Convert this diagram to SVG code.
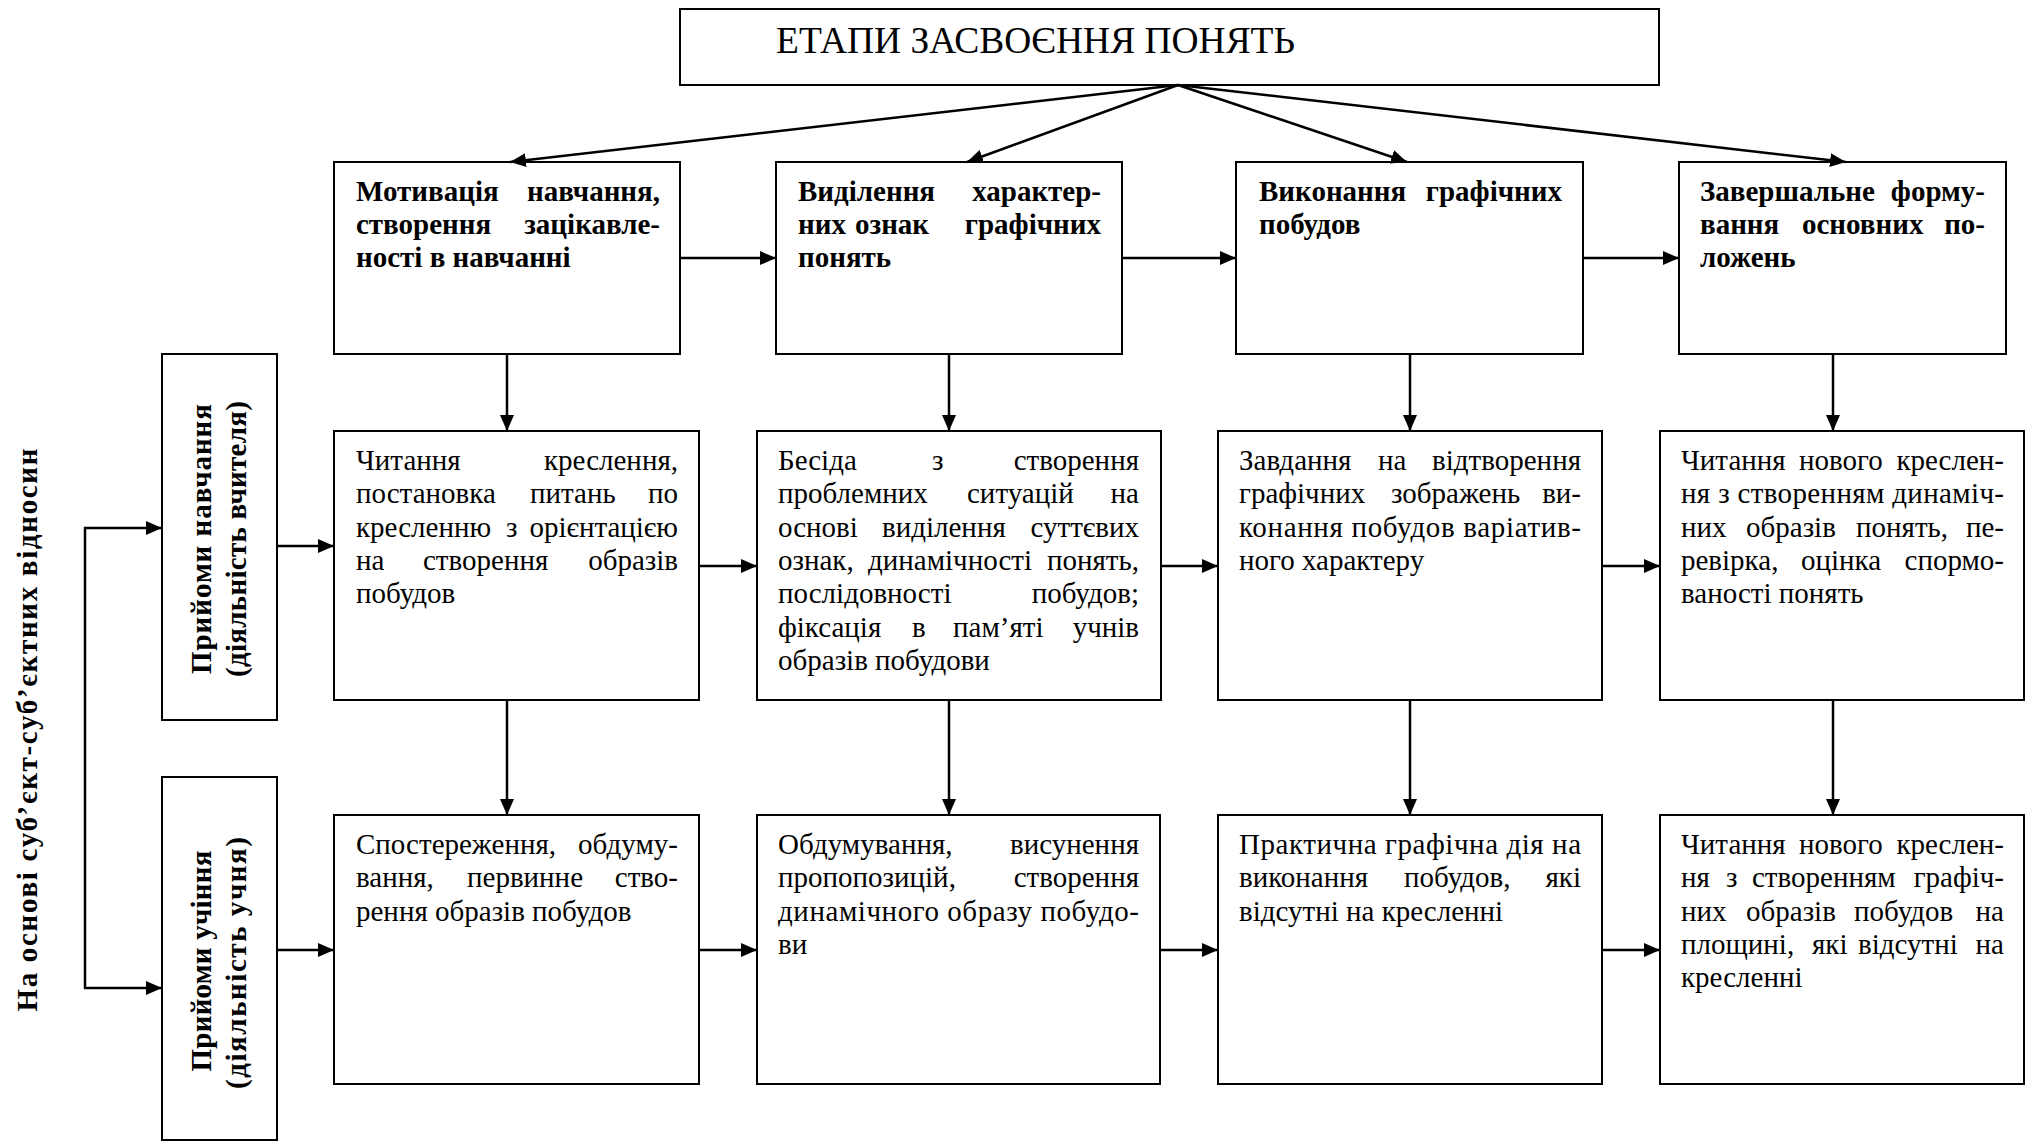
<svg xmlns="http://www.w3.org/2000/svg" width="2031" height="1142" viewBox="0 0 2031 1142">
  <style>
    .box { fill: #ffffff; stroke: #000000; stroke-width: 2; }
    .t { font-family: "Liberation Serif", "Times New Roman", serif; font-size: 29px; fill: #000000; }
    .b { font-weight: bold; }
    .e { text-anchor: end; }
    .m { text-anchor: middle; }
    .title { font-family: "Liberation Serif", "Times New Roman", serif; font-size: 37px; fill: #000000; }
    .conn { stroke: #000000; stroke-width: 2.5; fill: none; marker-end: url(#ah); }
    .wire { stroke: #000000; stroke-width: 2.5; fill: none; }
  </style>
  <defs>
    <marker id="ah" markerUnits="userSpaceOnUse" markerWidth="16" markerHeight="14" refX="16" refY="7" orient="auto">
      <path d="M0,0 L16,7 L0,14 z" fill="#000000"/>
    </marker>
  </defs>
  <rect x="0" y="0" width="2031" height="1142" fill="#ffffff"/>

  <!-- side caption -->
  <g id="caption-relations">
    <text class="t b m" transform="translate(37,730) rotate(-90)" textLength="563" lengthAdjust="spacing">На основі суб’єкт-суб’єктних відносин</text>
  </g>

  <!-- title -->
  <g id="title">
    <rect class="box" x="680" y="9" width="979" height="76"/>
    <text class="title" x="776" y="53" textLength="519" lengthAdjust="spacingAndGlyphs">ЕТАПИ ЗАСВОЄННЯ ПОНЯТЬ</text>
  </g>

  <!-- stage row -->
  <g id="stage-1">
    <rect class="box" x="334" y="162" width="346" height="192"/>
    <text class="t b" x="356" y="201">Мотивація</text><text class="t b e" x="660" y="201">навчання,</text>
    <text class="t b" x="356" y="234">створення</text><text class="t b e" x="660" y="234">зацікавле-</text>
    <text class="t b" x="356" y="267">ності в навчанні</text>
  </g>
  <g id="stage-2">
    <rect class="box" x="776" y="162" width="346" height="192"/>
    <text class="t b" x="798" y="201">Виділення</text><text class="t b e" x="1101" y="201">характер-</text>
    <text class="t b" x="798" y="234">них</text><text class="t b" x="855" y="234">ознак</text><text class="t b e" x="1101" y="234">графічних</text>
    <text class="t b" x="798" y="267">понять</text>
  </g>
  <g id="stage-3">
    <rect class="box" x="1236" y="162" width="347" height="192"/>
    <text class="t b" x="1259" y="201">Виконання</text><text class="t b e" x="1562" y="201">графічних</text>
    <text class="t b" x="1259" y="234">побудов</text>
  </g>
  <g id="stage-4">
    <rect class="box" x="1679" y="162" width="327" height="192"/>
    <text class="t b" x="1700" y="201">Завершальне</text><text class="t b e" x="1985" y="201">форму-</text>
    <text class="t b" x="1700" y="234">вання</text><text class="t b" x="1802" y="234">основних</text><text class="t b e" x="1985" y="234">по-</text>
    <text class="t b" x="1700" y="267">ложень</text>
  </g>

  <!-- teacher / student labels -->
  <g id="teacher">
    <rect class="box" x="162" y="354" width="115" height="366"/>
    <text class="t b m" transform="translate(211,539) rotate(-90)" textLength="270" lengthAdjust="spacing">Прийоми навчання</text>
    <text class="t b m" transform="translate(246,539) rotate(-90)" textLength="276" lengthAdjust="spacing">(діяльність вчителя)</text>
  </g>
  <g id="student">
    <rect class="box" x="162" y="777" width="115" height="363"/>
    <text class="t b m" transform="translate(211,961) rotate(-90)" textLength="221" lengthAdjust="spacing">Прийоми учіння</text>
    <text class="t b m" transform="translate(246,963) rotate(-90)" textLength="252" lengthAdjust="spacing">(діяльність учня)</text>
  </g>

  <!-- teaching row -->
  <g id="teach-1">
    <rect class="box" x="334" y="431" width="365" height="269"/>
    <text class="t" x="356" y="470">Читання</text><text class="t e" x="678" y="470">креслення,</text>
    <text class="t" x="356" y="503">постановка</text><text class="t" x="530" y="503">питань</text><text class="t e" x="678" y="503">по</text>
    <text class="t" x="356" y="537">кресленню</text><text class="t" x="506" y="537">з</text><text class="t e" x="678" y="537">орієнтацією</text>
    <text class="t" x="356" y="570">на</text><text class="t" x="423" y="570">створення</text><text class="t e" x="678" y="570">образів</text>
    <text class="t" x="356" y="603">побудов</text>
  </g>
  <g id="teach-2">
    <rect class="box" x="757" y="431" width="404" height="269"/>
    <text class="t" x="778" y="470">Бесіда</text><text class="t" x="932" y="470">з</text><text class="t e" x="1139" y="470">створення</text>
    <text class="t" x="778" y="503">проблемних</text><text class="t" x="967" y="503">ситуацій</text><text class="t e" x="1139" y="503">на</text>
    <text class="t" x="778" y="537">основі</text><text class="t" x="882" y="537">виділення</text><text class="t e" x="1139" y="537">суттєвих</text>
    <text class="t" x="778" y="570">ознак,</text><text class="t" x="868" y="570">динамічності</text><text class="t e" x="1139" y="570">понять,</text>
    <text class="t" x="778" y="603">послідовності</text><text class="t e" x="1139" y="603">побудов;</text>
    <text class="t" x="778" y="637">фіксація</text><text class="t" x="912" y="637">в</text><text class="t" x="953" y="637">пам’яті</text><text class="t e" x="1139" y="637">учнів</text>
    <text class="t" x="778" y="670">образів побудови</text>
  </g>
  <g id="teach-3">
    <rect class="box" x="1218" y="431" width="384" height="269"/>
    <text class="t" x="1239" y="470">Завдання</text><text class="t" x="1378" y="470">на</text><text class="t e" x="1581" y="470">відтворення</text>
    <text class="t" x="1239" y="503">графічних</text><text class="t" x="1391" y="503">зображень</text><text class="t e" x="1581" y="503">ви-</text>
    <text class="t" x="1239" y="537" textLength="342" lengthAdjust="spacing">конання побудов варіатив-</text>
    <text class="t" x="1239" y="570">ного характеру</text>
  </g>
  <g id="teach-4">
    <rect class="box" x="1660" y="431" width="364" height="269"/>
    <text class="t" x="1681" y="470">Читання</text><text class="t" x="1799" y="470">нового</text><text class="t e" x="2004" y="470">креслен-</text>
    <text class="t" x="1681" y="503" textLength="323" lengthAdjust="spacing">ня з створенням динаміч-</text>
    <text class="t" x="1681" y="537">них</text><text class="t" x="1746" y="537">образів</text><text class="t" x="1856" y="537">понять,</text><text class="t e" x="2004" y="537">пе-</text>
    <text class="t" x="1681" y="570">ревірка,</text><text class="t" x="1801" y="570">оцінка</text><text class="t e" x="2004" y="570">спормо-</text>
    <text class="t" x="1681" y="603">ваності понять</text>
  </g>

  <!-- learning row -->
  <g id="learn-1">
    <rect class="box" x="334" y="815" width="365" height="269"/>
    <text class="t" x="356" y="854">Спостереження,</text><text class="t e" x="678" y="854">обдуму-</text>
    <text class="t" x="356" y="887">вання,</text><text class="t" x="467" y="887">первинне</text><text class="t e" x="678" y="887">ство-</text>
    <text class="t" x="356" y="921">рення образів побудов</text>
  </g>
  <g id="learn-2">
    <rect class="box" x="757" y="815" width="403" height="269"/>
    <text class="t" x="778" y="854">Обдумування,</text><text class="t e" x="1139" y="854">висунення</text>
    <text class="t" x="778" y="887">пропопозицій,</text><text class="t e" x="1139" y="887">створення</text>
    <text class="t" x="778" y="921" textLength="361" lengthAdjust="spacing">динамічного образу побудо-</text>
    <text class="t" x="778" y="954">ви</text>
  </g>
  <g id="learn-3">
    <rect class="box" x="1218" y="815" width="384" height="269"/>
    <text class="t" x="1239" y="854" textLength="342" lengthAdjust="spacing">Практична графічна дія на</text>
    <text class="t" x="1239" y="887">виконання</text><text class="t" x="1404" y="887">побудов,</text><text class="t e" x="1581" y="887">які</text>
    <text class="t" x="1239" y="921">відсутні на кресленні</text>
  </g>
  <g id="learn-4">
    <rect class="box" x="1660" y="815" width="364" height="269"/>
    <text class="t" x="1681" y="854">Читання</text><text class="t" x="1799" y="854">нового</text><text class="t e" x="2004" y="854">креслен-</text>
    <text class="t" x="1681" y="887">ня</text><text class="t" x="1726" y="887">з</text><text class="t" x="1752" y="887">створенням</text><text class="t e" x="2004" y="887">графіч-</text>
    <text class="t" x="1681" y="921">них</text><text class="t" x="1746" y="921">образів</text><text class="t" x="1854" y="921">побудов</text><text class="t e" x="2004" y="921">на</text>
    <text class="t" x="1681" y="954">площині,</text><text class="t" x="1812" y="954">які</text><text class="t" x="1858" y="954">відсутні</text><text class="t e" x="2004" y="954">на</text>
    <text class="t" x="1681" y="987">кресленні</text>
  </g>

  <!-- connectors -->
  <g id="connectors">
    <!-- title fan-out -->
    <line class="conn" x1="1178" y1="85" x2="510" y2="162"/>
    <line class="conn" x1="1178" y1="85" x2="967" y2="162"/>
    <line class="conn" x1="1178" y1="85" x2="1407" y2="162"/>
    <line class="conn" x1="1178" y1="85" x2="1846" y2="162"/>
    <!-- stage sequence -->
    <line class="conn" x1="680" y1="258" x2="776" y2="258"/>
    <line class="conn" x1="1122" y1="258" x2="1236" y2="258"/>
    <line class="conn" x1="1583" y1="258" x2="1679" y2="258"/>
    <!-- stage to teaching -->
    <line class="conn" x1="507" y1="354" x2="507" y2="431"/>
    <line class="conn" x1="949" y1="354" x2="949" y2="431"/>
    <line class="conn" x1="1410" y1="354" x2="1410" y2="431"/>
    <line class="conn" x1="1833" y1="354" x2="1833" y2="431"/>
    <!-- teaching to learning -->
    <line class="conn" x1="507" y1="700" x2="507" y2="815"/>
    <line class="conn" x1="949" y1="700" x2="949" y2="815"/>
    <line class="conn" x1="1410" y1="700" x2="1410" y2="815"/>
    <line class="conn" x1="1833" y1="700" x2="1833" y2="815"/>
    <!-- teaching row sequence -->
    <line class="conn" x1="277" y1="546" x2="334" y2="546"/>
    <line class="conn" x1="699" y1="566" x2="757" y2="566"/>
    <line class="conn" x1="1161" y1="566" x2="1218" y2="566"/>
    <line class="conn" x1="1602" y1="566" x2="1660" y2="566"/>
    <!-- learning row sequence -->
    <line class="conn" x1="277" y1="950" x2="334" y2="950"/>
    <line class="conn" x1="699" y1="950" x2="757" y2="950"/>
    <line class="conn" x1="1160" y1="950" x2="1218" y2="950"/>
    <line class="conn" x1="1602" y1="950" x2="1660" y2="950"/>
    <!-- bracket to teacher / student -->
    <line class="wire" x1="85" y1="527" x2="85" y2="989"/>
    <line class="conn" x1="84" y1="528" x2="162" y2="528"/>
    <line class="conn" x1="84" y1="988" x2="162" y2="988"/>
  </g>
</svg>
